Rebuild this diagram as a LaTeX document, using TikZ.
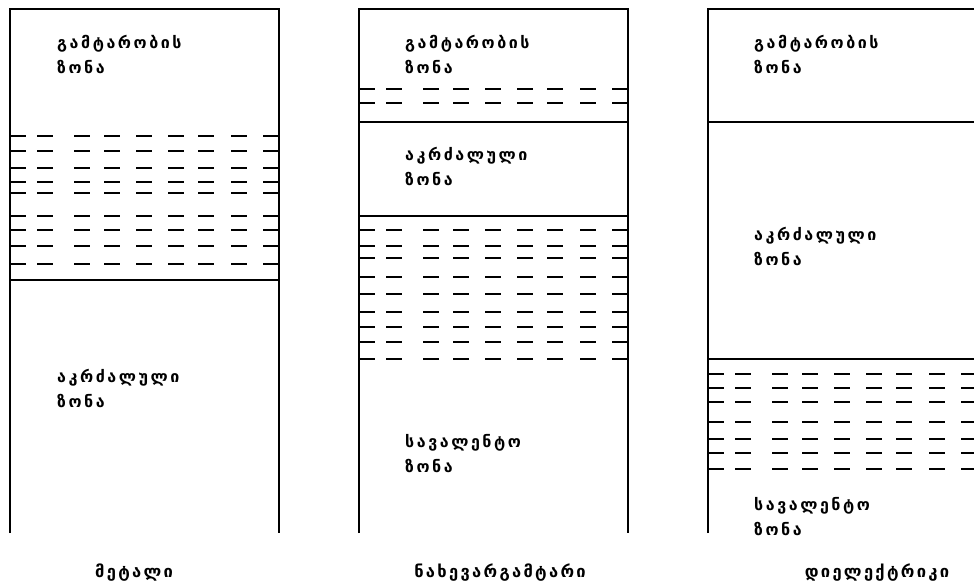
\documentclass[tikz,border=0pt]{standalone}
\usepackage{fontspec}
\newfontfamily\geo[Script=Georgian,LetterSpace=16]{DejaVu Sans}
\newfontfamily\geocap[Script=Georgian,LetterSpace=14]{DejaVu Sans}
\tikzset{
  line/.style={line width=1.5pt},
  dashline/.style={line width=1.5pt},
  zone/.style={anchor=north west,inner sep=0pt,align=left,font=\geo\bfseries\fontsize{16}{25}\selectfont},
  caption/.style={anchor=center,inner sep=0pt,font=\geocap\bfseries\fontsize{16.5}{18}\selectfont},
}
\newcommand\dashrow[2]{\foreach \s in {0,27,64,94,126,158,188,221,253} {\draw[dashline] (#1+\s,#2) -- (#1+\s+16,#2);}}
\begin{document}
\begin{tikzpicture}[x=1pt,y=-1pt]
\useasboundingbox (0,0) rectangle (974,587);
% column 1: metal
\draw[line] (10,533) -- (10,9) -- (279,9) -- (279,533);
\draw[line] (10,280) -- (279,280);
\foreach \y in {136,151,168,182,193,216,230,246,264} {\dashrow{10}{\y}}
\node[zone] (c1) at (57,35) {გამტარობის\\ზონა};
\node[zone] (f1) at (57,369) {აკრძალული\\ზონა};
\node[caption] (l1) at (134,573) {მეტალი};
% column 2: semiconductor
\draw[line] (359,533) -- (359,9) -- (628,9) -- (628,533);
\draw[line] (359,122) -- (628,122);
\draw[line] (359,216) -- (628,216);
\foreach \y in {89,103,230,246,258,277,294,312,327,342,359} {\dashrow{359}{\y}}
\node[zone] (c2) at (405,35) {გამტარობის\\ზონა};
\node[zone] (f2) at (405,147) {აკრძალული\\ზონა};
\node[zone] (v2) at (405,434) {სავალენტო\\ზონა};
\node[caption] (l2) at (500,573) {ნახევარგამტარი};
% column 3: dielectric
\draw[line] (708,533) -- (708,9) -- (974,9);
\draw[line] (708,122) -- (974,122);
\draw[line] (708,359) -- (974,359);
\foreach \y in {374,388,402,422,439,453,469} {\dashrow{708}{\y}}
\node[zone] (c3) at (754,35) {გამტარობის\\ზონა};
\node[zone] (f3) at (754,227) {აკრძალული\\ზონა};
\node[zone] (v3) at (754,497) {სავალენტო\\ზონა};
\node[caption] (l3) at (877,573) {დიელექტრიკი};
\end{tikzpicture}
\end{document}
